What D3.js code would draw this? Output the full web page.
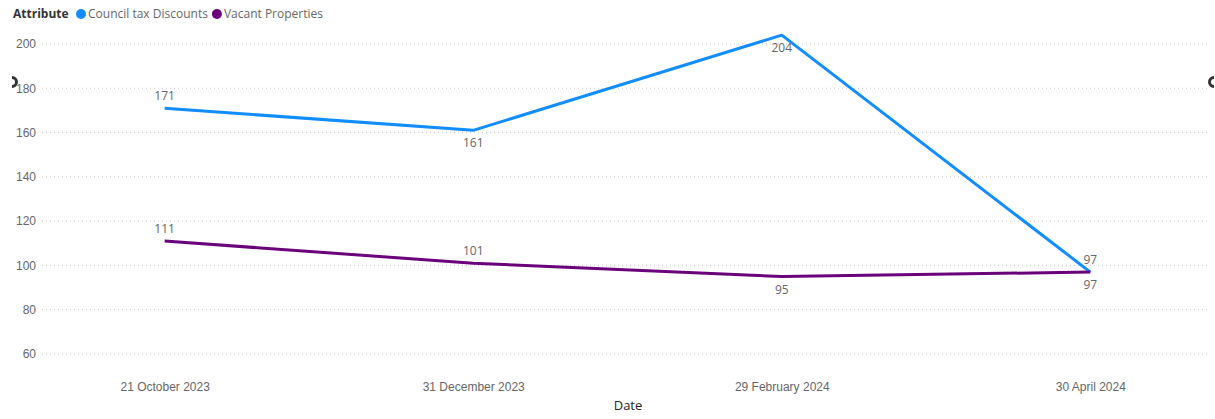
<!DOCTYPE html>
<html>
<head>
<meta charset="utf-8">
<script src="https://cdn.jsdelivr.net/npm/d3@7"></script>
<style>
  body { margin: 0; background: #fff; }
  svg { font-family: "Segoe UI", "Open Sans", "Noto Sans", sans-serif; }
  .grid line { stroke: #c8c8c8; stroke-dasharray: 1 3; }
  .axis text { fill: #666; font-size: 12px; }
</style>
</head>
<body>
<svg id="chart"></svg>
<script>
const dates = ['21 October 2023', '31 December 2023', '29 February 2024', '30 April 2024'];
const councilTax = [171, 161, 204, 97];
const vacant = [111, 101, 95, 97];
const yTicks = [60, 80, 100, 120, 140, 160, 180, 200];

const width = 1215, height = 419;

const svg = d3.select('#chart')
  .attr('width', width)
  .attr('height', height);

const x = d3.scalePoint()
  .domain(dates)
  .range([40, 1215])
  .padding(0.404);

const y = d3.scaleLinear()
  .domain([60, 200])
  .range([354, 44]);

const series = [
  {key: 'Council tax Discounts', color: '#118DFF', values: councilTax, pos: ['above', 'below', 'below', 'above']},
  {key: 'Vacant Properties', color: '#6B007B', values: vacant, pos: ['above', 'above', 'below', 'below']},
];

// gridlines
svg.append('g')
  .attr('class', 'grid')
  .selectAll('line')
  .data(yTicks)
  .enter()
  .append('line')
  .attr('x1', 42)
  .attr('x2', 1210)
  .attr('y1', (d) => y(d))
  .attr('y2', (d) => y(d));

// y axis
svg.append('g')
  .attr('class', 'axis')
  .attr('transform', 'translate(36,0)')
  .call(d3.axisLeft(y).tickValues(yTicks).tickSize(0).tickPadding(0))
  .call((g) => g.select('.domain').remove());

// x axis
svg.append('g')
  .attr('class', 'axis')
  .attr('transform', 'translate(0,376)')
  .call(d3.axisBottom(x).tickSize(0).tickPadding(6))
  .call((g) => g.select('.domain').remove());

svg.append('text')
  .attr('x', 628)
  .attr('y', 410)
  .attr('text-anchor', 'middle')
  .attr('fill', '#252423')
  .attr('font-size', 13)
  .text('Date');

const line = d3.line()
  .x((d, i) => x(dates[i]))
  .y((d) => y(d));

series.forEach((s) => {
  svg.append('path')
    .attr('d', line(s.values))
    .attr('fill', 'none')
    .attr('stroke', s.color)
    .attr('stroke-width', 3)
    .attr('stroke-linejoin', 'round');

  svg.append('g')
    .selectAll('text')
    .data(s.values)
    .enter()
    .append('text')
    .attr('x', (d, i) => x(dates[i]))
    .attr('y', (d, i) => s.pos[i] === 'above' ? y(d) - 8 : y(d) + 17)
    .attr('text-anchor', 'middle')
    .attr('fill', '#666')
    .attr('font-size', 12)
    .text((d) => d);
});

// legend
const legend = svg.append('g').attr('transform', 'translate(13,18)');
legend.append('text')
  .attr('font-size', 12)
  .attr('font-weight', 'bold')
  .attr('fill', '#333')
  .text('Attribute');
let lx = 68;
series.forEach((s) => {
  legend.append('circle')
    .attr('cx', lx)
    .attr('cy', -4)
    .attr('r', 5)
    .attr('fill', s.color);
  const t = legend.append('text')
    .attr('x', lx + 7)
    .attr('font-size', 12)
    .attr('fill', '#666')
    .text(s.key);
  lx += 7 + t.node().getComputedTextLength() + 9;
});

// scroll arrows at the plot edges
const arc = d3.arc().innerRadius(3).outerRadius(6);
[[12, 82, 0], [1214, 82, Math.PI]].forEach(([cx, cy, a]) => {
  svg.append('path')
    .attr('transform', `translate(${cx},${cy})`)
    .attr('d', arc({startAngle: a, endAngle: a + Math.PI}))
    .attr('fill', '#333');
});
</script>
</body>
</html>
